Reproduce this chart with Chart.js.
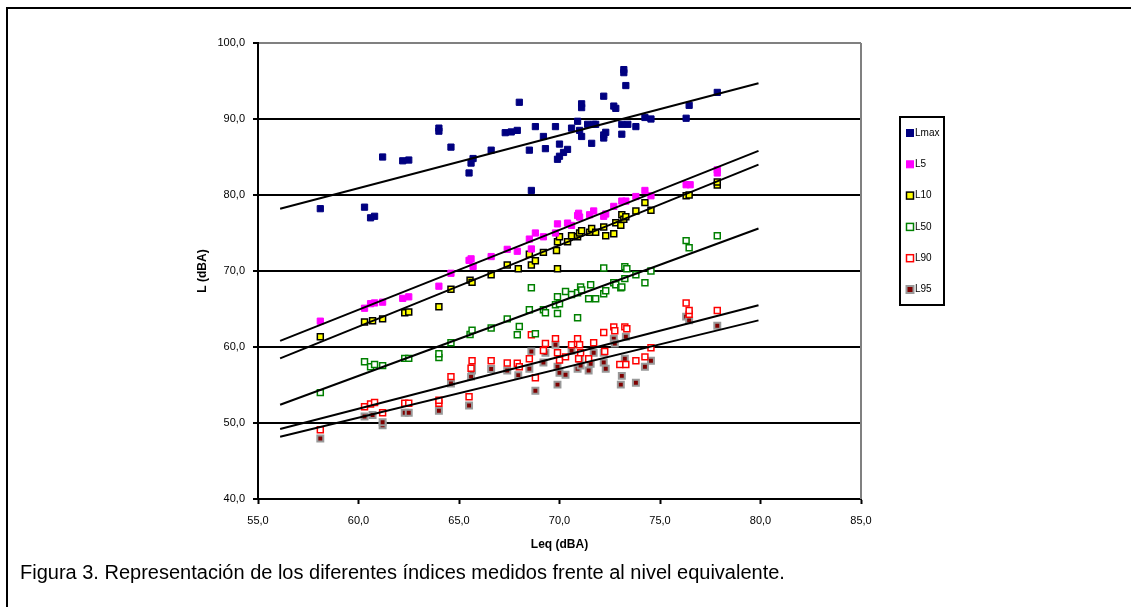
<!DOCTYPE html>
<html>
<head>
<meta charset="utf-8">
<script src="https://cdn.jsdelivr.net/npm/chart.js@4/dist/chart.umd.min.js"></script>
<style>
    html, body { margin: 0; padding: 0; background: #fff; }
    #wrap { position: relative; width: 1131px; height: 607px; overflow: hidden; }
    #caption {
        position: absolute; left: 20px; top: 561px;
        font: 20px "Liberation Sans", Arial, sans-serif; color: #000; white-space: nowrap;
    }
</style>
</head>
<body>
<div id="wrap">
    <canvas id="idChart" width="1131" height="607"></canvas>
    <div id="caption">Figura 3. Representación de los diferentes índices medidos frente al nivel equivalente.</div>
</div>
<script>
/* data: Leq (x) against each index (y) */
var seriesNames = ['Lmax', 'L5', 'L10', 'L50', 'L90', 'L95'];

var lmaxX = [58.1, 60.3, 60.6, 60.8, 61.2, 62.2, 62.5, 64.0, 64.0, 64.6, 65.5, 65.6, 65.7, 66.6, 67.3, 67.6, 68.0, 67.9, 68.6, 68.5,
    68.8, 69.2, 69.3, 69.8, 69.9, 70.0, 70.0, 70.2, 70.4, 70.6, 70.9, 71.0, 71.1, 71.1, 71.1, 71.4, 71.7, 71.6, 71.8, 72.2,
    72.2, 72.2, 72.3, 72.7, 72.8, 73.1, 73.1, 73.2, 73.2, 73.3, 73.4, 73.8, 74.25, 74.55, 76.3, 76.45, 77.85];
var lmaxY = [78.2, 78.4, 77.0, 77.2, 85.0, 84.5, 84.6, 88.4, 88.8, 86.3, 82.9, 84.2, 84.8, 85.9, 88.2, 88.3, 92.2, 88.5, 80.6, 85.9,
    89.0, 87.7, 86.1, 89.0, 84.7, 85.1, 86.7, 85.6, 86.0, 88.8, 89.7, 88.5, 91.5, 92.0, 87.7, 89.3, 89.3, 86.8, 89.3, 93.0,
    87.5, 87.9, 88.25, 91.7, 91.4, 88.0, 89.3, 96.1, 96.5, 94.4, 89.3, 89.0, 90.2, 90.0, 90.1, 91.8, 93.5];

var l5X = [58.1, 60.3, 60.6, 60.8, 61.2, 62.2, 62.5, 64.0, 64.6, 65.5, 65.6, 65.7, 66.6, 67.4, 67.9, 68.5, 68.6, 68.8, 69.2, 69.8,
    69.9, 70.4, 70.6, 70.9, 70.95, 71.0, 71.5, 71.7, 72.2, 72.3, 72.7, 73.1, 73.3, 73.8, 74.25, 74.55, 76.3, 76.5, 77.85, 77.85];
var l5Y = [63.4, 65.1, 65.7, 65.8, 65.9, 66.4, 66.6, 68.0, 69.7, 71.4, 71.6, 70.6, 71.9, 72.85, 72.6, 74.2, 72.9, 75.0, 74.5, 75.0,
    76.2, 76.3, 76.0, 77.3, 77.6, 77.1, 77.4, 77.9, 77.2, 77.5, 78.5, 79.2, 79.2, 79.8, 80.6, 79.9, 81.35, 81.35, 82.9, 83.3];

var l10X = [58.1, 60.3, 60.7, 61.2, 62.3, 62.5, 64.0, 64.6, 65.55, 65.65, 66.6, 67.4, 67.95, 68.5, 68.6, 68.8, 69.2, 69.85, 69.9, 69.9,
    70.0, 70.4, 70.6, 70.9, 71.0, 71.1, 71.5, 71.6, 71.8, 72.2, 72.3, 72.7, 72.8, 73.05, 73.1, 73.2, 73.3, 73.8, 74.25, 74.55,
    76.3, 76.45, 77.85, 77.85];
var l10Y = [61.35, 63.3, 63.45, 63.7, 64.5, 64.6, 65.3, 67.6, 68.8, 68.5, 69.5, 70.8, 70.3, 72.2, 70.8, 71.35, 72.45, 72.7, 70.3, 73.85,
    74.5, 73.85, 74.65, 74.5, 75.0, 75.3, 75.1, 75.6, 75.1, 75.8, 74.65, 74.9, 76.35, 76.0, 77.4, 76.8, 77.15, 77.9, 79.0, 78.0,
    79.9, 80.0, 81.3, 81.7];

var l50X = [58.1, 60.3, 60.6, 60.8, 61.2, 62.3, 62.5, 64.0, 64.0, 64.6, 65.55, 65.65, 66.6, 67.4, 67.9, 68.0, 68.5, 68.6, 68.8, 69.2,
    69.3, 69.8, 69.9, 69.9, 70.0, 70.3, 70.6, 70.9, 70.9, 71.05, 71.1, 71.45, 71.55, 71.8, 72.2, 72.2, 72.3, 72.7, 72.8, 73.05,
    73.1, 73.25, 73.25, 73.35, 73.8, 74.25, 74.55, 76.3, 76.45, 77.85];
var l50Y = [54.0, 58.05, 57.4, 57.7, 57.55, 58.5, 58.5, 58.6, 59.1, 60.55, 61.65, 62.2, 62.5, 63.7, 61.6, 62.7, 64.9, 67.8, 61.75, 64.9,
    64.5, 65.55, 66.6, 64.4, 65.7, 67.3, 66.9, 63.85, 67.15, 67.9, 67.5, 66.35, 68.2, 66.35, 70.4, 67.0, 67.4, 68.45, 68.2, 67.8,
    67.9, 70.55, 69.0, 70.3, 69.5, 68.45, 70.0, 74.0, 73.05, 74.65];

var l90X = [58.1, 60.3, 60.6, 60.8, 61.2, 62.3, 62.5, 64.0, 64.0, 64.6, 65.5, 65.6, 65.65, 66.6, 67.4, 67.9, 68.0, 68.5, 68.6, 68.8,
    69.3, 69.2, 69.8, 69.9, 70.0, 70.3, 70.6, 70.9, 71.0, 71.05, 70.95, 71.45, 71.7, 72.2, 72.25, 72.7, 72.75, 73.0, 73.3, 73.25,
    73.35, 73.8, 74.25, 74.55, 76.3, 76.45, 76.45, 77.85];
var l90Y = [49.1, 52.15, 52.5, 52.7, 51.35, 52.6, 52.6, 52.6, 53.0, 56.1, 53.45, 57.2, 58.2, 58.2, 57.9, 57.85, 57.4, 58.45, 61.6, 55.95,
    60.45, 59.55, 61.1, 59.25, 58.3, 58.7, 60.3, 61.1, 60.3, 59.25, 58.45, 58.45, 60.55, 61.9, 59.4, 62.65, 62.15, 57.7, 57.7, 62.65,
    62.4, 58.2, 58.7, 59.9, 65.8, 64.3, 64.8, 64.8];

var l95X = [58.1, 60.3, 60.7, 61.2, 61.2, 62.3, 62.5, 64.0, 64.6, 65.5, 65.6, 65.65, 65.65, 66.6, 67.4, 67.95, 68.5, 68.6, 68.8, 69.2,
    69.3, 69.8, 69.9, 69.9, 70.0, 70.3, 70.6, 70.9, 71.0, 71.05, 71.45, 71.55, 71.7, 72.2, 72.2, 72.3, 72.7, 72.75, 73.05, 73.1,
    73.25, 73.3, 73.8, 74.25, 74.55, 76.3, 76.45, 77.85];
var l95Y = [47.95, 50.85, 51.05, 49.7, 50.1, 51.35, 51.35, 51.6, 55.2, 52.3, 56.1, 56.9, 57.2, 57.1, 56.9, 56.3, 57.15, 59.4, 54.25, 57.95,
    59.25, 60.3, 55.05, 57.4, 56.6, 56.35, 59.5, 57.15, 58.45, 57.55, 56.9, 57.8, 59.25, 59.25, 57.95, 57.15, 61.1, 60.45, 55.05, 56.2,
    58.45, 61.35, 55.3, 57.4, 58.2, 64.0, 63.5, 62.8];

/* linear trend lines, end points */
var trendX = [56.1, 79.9];
var trendLmax = [78.2, 94.7];
var trendL5 = [60.8, 85.8];
var trendL10 = [58.5, 84.0];
var trendL50 = [52.4, 75.6];
var trendL90 = [49.2, 65.5];
var trendL95 = [48.2, 63.5];

var xTicks = [55, 60, 65, 70, 75, 80, 85];
var yTicks = [40, 50, 60, 70, 80, 90, 100];

function pts(xs, ys) {
    return xs.map(function (x, i) { return { x: x, y: ys[i] }; });
}
function comma(v) {
    return Number(v).toFixed(1).replace('.', ',');
}

var styles = [
    { bg: '#000080', border: '#000080', bw: 1, r: 4.4 },
    { bg: '#FF00FF', border: '#FF00FF', bw: 1, r: 4.4 },
    { bg: '#FFFF00', border: '#000000', bw: 1.5, r: 4.2 },
    { bg: '#FFFFFF', border: '#008000', bw: 1.5, r: 4.2 },
    { bg: '#FFFFFF', border: '#FF0000', bw: 1.5, r: 4.2 },
    { bg: '#800000', border: '#999999', bw: 2, r: 4.2 }
];
var xs = [lmaxX, l5X, l10X, l50X, l90X, l95X];
var ys = [lmaxY, l5Y, l10Y, l50Y, l90Y, l95Y];
var trends = [trendLmax, trendL5, trendL10, trendL50, trendL90, trendL95];

var datasets = [];
for (var i = 0; i < seriesNames.length; i++) {
    datasets.push({
        label: seriesNames[i],
        data: pts(xs[i], ys[i]),
        pointStyle: 'rect',
        pointRadius: styles[i].r,
        pointHoverRadius: styles[i].r,
        pointBackgroundColor: styles[i].bg,
        pointBorderColor: styles[i].border,
        pointBorderWidth: styles[i].bw,
        backgroundColor: styles[i].bg,
        borderColor: styles[i].border,
        borderWidth: styles[i].bw,
        showLine: false,
        order: 2
    });
}
for (var j = 0; j < trends.length; j++) {
    datasets.push({
        label: 'trend ' + seriesNames[j],
        isTrend: true,
        data: pts(trendX, trends[j]),
        showLine: true,
        borderColor: '#000',
        borderWidth: 2,
        pointRadius: 0,
        fill: false,
        order: 1
    });
}

/* frame, plot border and legend box */
var framePlugin = {
    id: 'frame',
    beforeDraw: function (chart) {
        var c = chart.ctx;
        c.save();
        c.fillStyle = '#fff';
        c.fillRect(0, 0, chart.width, chart.height);
        c.strokeStyle = '#000';
        c.lineWidth = 2;
        c.beginPath();
        c.moveTo(7, chart.height);
        c.lineTo(7, 8);
        c.lineTo(chart.width, 8);
        c.stroke();
        c.restore();
    },
    afterDraw: function (chart) {
        var c = chart.ctx, a = chart.chartArea;
        c.save();
        c.strokeStyle = '#808080';
        c.lineWidth = 2;
        c.beginPath();
        c.moveTo(a.right, a.top);
        c.lineTo(a.right, a.bottom);
        c.stroke();

        // legend
        var bx = 900, by = 117, bw = 44, bh = 188;
        c.fillStyle = '#fff';
        c.fillRect(bx, by, bw, bh);
        c.strokeStyle = '#000';
        c.lineWidth = 2;
        c.strokeRect(bx, by, bw, bh);
        c.font = '10px "Liberation Sans", Arial, sans-serif';
        c.textBaseline = 'middle';
        c.textAlign = 'left';
        var sets = chart.data.datasets.filter(function (d) { return !d.isTrend; });
        sets.forEach(function (d, k) {
            var cy = 133 + k * 31.3;
            var s = 7;
            c.fillStyle = d.backgroundColor;
            c.fillRect(910 - s / 2, cy - s / 2, s, s);
            c.strokeStyle = d.borderColor;
            c.lineWidth = d.borderWidth;
            c.strokeRect(910 - s / 2, cy - s / 2, s, s);
            c.fillStyle = '#000';
            c.fillText(d.label, 915, cy);
        });
        c.restore();
    }
};

var tickFont = { family: '"Liberation Sans", Arial, sans-serif', size: 11 };
var titleFont = { family: '"Liberation Sans", Arial, sans-serif', size: 12, weight: 'bold' };

var ctx = document.getElementById('idChart').getContext('2d');
var myChart = new Chart(ctx, {
    type: 'scatter',
    data: { datasets: datasets },
    options: {
        responsive: false,
        animation: false,
        layout: { padding: { left: 180, top: 43, right: 270, bottom: 0 } },
        plugins: { legend: { display: false }, tooltip: { enabled: false } },
        scales: {
            x: {
                type: 'linear',
                min: 55, max: 85,
                afterFit: function (s) { s.height = 108; },
                afterBuildTicks: function (s) { s.ticks = xTicks.map(function (v) { return { value: v }; }); },
                ticks: { color: '#000', font: tickFont, padding: 10, maxRotation: 0, autoSkip: false, callback: comma },
                grid: { drawOnChartArea: false, drawTicks: true, tickLength: 5, tickColor: '#000', tickWidth: 2 },
                border: { color: '#000', width: 2 },
                title: { display: true, text: 'Leq (dBA)', color: '#000', font: titleFont, padding: { top: 4, bottom: 55 } }
            },
            y: {
                type: 'linear',
                min: 40, max: 100,
                afterFit: function (s) { s.width = 78; },
                afterBuildTicks: function (s) { s.ticks = yTicks.map(function (v) { return { value: v }; }); },
                ticks: { color: '#000', font: tickFont, padding: 8, autoSkip: false, callback: comma },
                grid: {
                    color: function (c) { return c.tick && c.tick.value === 100 ? '#808080' : '#000'; },
                    lineWidth: 2, tickLength: 5, tickColor: '#000', tickWidth: 2
                },
                border: { color: '#000', width: 2 },
                title: { display: true, text: 'L (dBA)', color: '#000', font: titleFont, padding: { top: 15, bottom: 4 } }
            }
        }
    },
    plugins: [framePlugin]
});
</script>
</body>
</html>
